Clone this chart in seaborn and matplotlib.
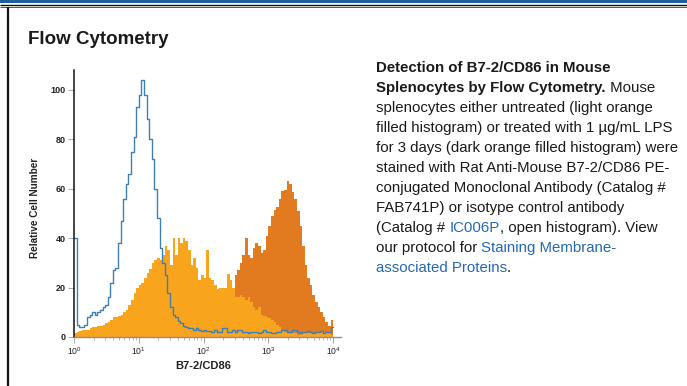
import numpy as np
import pandas as pd
import seaborn as sns
import matplotlib
matplotlib.use("Agg")
import matplotlib.pyplot as plt
from matplotlib.patches import Rectangle
from matplotlib.ticker import LogLocator, NullFormatter, FixedLocator

# Fluorescence channels: 100 bins of 0.04 decade spanning 10^0 .. 10^4
LOG_START = 0.0
LOG_BIN = 0.04
N_BINS = 100

# Isotype control antibody (open histogram)
isotype_counts = [
    40, 5, 4, 4, 5, 8, 9, 10, 9, 10,
    11, 12, 13, 16, 22, 27, 28, 38, 47, 56,
    62, 66, 75, 81, 93, 98, 104, 98, 88, 80,
    72, 60, 48, 36, 30, 25, 18, 12, 9, 8,
    6.5, 5.5, 4.5, 4, 3.5, 3.5, 3, 3.5, 3, 2.5,
    3, 2.5, 2.5, 2, 3, 2, 2, 3.5, 3.5, 2,
    2, 3, 2, 3, 3, 2, 2, 1.5, 2, 2,
    2, 1.5, 2, 3, 2, 2, 1.5, 1.5, 2, 2,
    3, 3, 2, 2, 3, 3, 2, 1.5, 2, 2,
    2.5, 2, 1.5, 2, 2, 2.5, 1.5, 2, 2, 4,
]

# Untreated splenocytes (light orange)
untreated_counts = [
    1.5, 2, 2.5, 3, 3, 3, 3.5, 4, 4, 4.5,
    4.5, 5, 5.5, 6, 7, 8, 8, 8.5, 9, 10,
    11, 13, 15, 18, 20, 21, 22, 24, 26, 27.5,
    30, 31, 32, 31, 33, 37, 35, 29, 40, 33,
    40, 38, 40, 39, 35, 29, 32, 28, 23, 25,
    24, 35, 24, 23, 21, 19.5, 20, 20, 20, 25.5,
    23, 20, 16, 16, 17, 16, 15, 16, 14, 12,
    11, 12, 9, 8.5, 8, 7.5, 7, 6, 5, 4,
    3, 2, 2, 1.5, 1.5, 1.5, 1, 1.5, 1.5, 1.5,
    1.5, 1.5, 1.5, 2, 2, 2, 2, 2, 1.5, 1,
]

# LPS-treated splenocytes, 1 ug/mL for 3 days (dark orange)
lps_counts = [
    0, 0, 0, 0, 0, 0, 0, 0, 0, 0,
    0, 0, 0, 0, 0, 0, 0, 0, 0, 0,
    0, 0, 0, 0, 0, 0, 0, 0, 0, 0,
    0, 0, 0, 0, 0, 0, 0, 0, 0, 0,
    2, 3, 3, 4, 4, 5, 5, 6, 6, 7,
    8, 9, 9, 10, 11, 12, 12, 13, 14, 15,
    15, 16, 25, 27, 30, 33, 40, 33, 32, 36,
    38, 37, 34, 35, 41, 45, 49, 51.5, 52.5, 56,
    59, 59.5, 63, 62, 58.5, 56, 51, 45, 37, 29,
    24, 21, 17, 14, 12, 10, 8, 6, 4.5, 7,
]

y_ticks = [0, 20, 40, 60, 80, 100]
x_label = "B7-2/CD86"
y_label = "Relative Cell Number"

LIGHT = "#f9a41d"
DARK = "#e27b1f"
BLUE = "#3f7fb2"
LINK = "#2468b4"
TEXT = "#1a1a1a"

sns.set_theme(style="white")
plt.rcParams["font.family"] = ["Liberation Sans", "DejaVu Sans"]
plt.rcParams["mathtext.fontset"] = "custom"
plt.rcParams["mathtext.rm"] = "Liberation Sans"
plt.rcParams["mathtext.it"] = "Liberation Sans:italic"
plt.rcParams["mathtext.bf"] = "Liberation Sans:bold"

W, H = 687, 386
fig = plt.figure(figsize=(W / 100, H / 100), dpi=100)
fig.patch.set_facecolor("white")

# page frame drawn in pixel units
bg = fig.add_axes([0, 0, 1, 1])
bg.set_xlim(0, W)
bg.set_ylim(H, 0)
bg.axis("off")
bg.add_patch(Rectangle((0, 0), W, 2.6, color="#1f5f9e", lw=0))
bg.plot([0, W], [4.7, 4.7], color="#111111", lw=1.0, solid_capstyle="butt")
bg.plot([0, W], [7.0, 7.0], color="#555555", lw=0.7, solid_capstyle="butt")
bg.plot([8.2, 8.2], [6.6, H], color="#111111", lw=1.6, solid_capstyle="butt")

bg.text(28, 44.5, "Flow Cytometry", fontsize=13.5, fontweight="bold",
        color=TEXT, va="baseline", ha="left")

# caption, one list of (text, weight, colour) runs per line
caption = [
    [("Detection of B7-2/CD86 in Mouse", "bold", TEXT)],
    [("Splenocytes by Flow Cytometry.", "bold", TEXT), (" Mouse", "normal", TEXT)],
    [("splenocytes either untreated (light orange", "normal", TEXT)],
    [("filled histogram) or treated with 1 \u00b5g/mL LPS", "normal", TEXT)],
    [("for 3 days (dark orange filled histogram) were", "normal", TEXT)],
    [("stained with Rat Anti-Mouse B7-2/CD86 PE-", "normal", TEXT)],
    [("conjugated Monoclonal Antibody (Catalog #", "normal", TEXT)],
    [("FAB741P) or isotype control antibody", "normal", TEXT)],
    [("(Catalog # ", "normal", TEXT), ("IC006P", "normal", LINK),
     (", open histogram). View", "normal", TEXT)],
    [("our protocol for ", "normal", TEXT), ("Staining Membrane-", "normal", LINK)],
    [("associated Proteins", "normal", LINK), (".", "normal", TEXT)],
]
renderer = fig.canvas.get_renderer()
cap_x, cap_y, cap_lead = 376, 71.7, 20.0
for i, runs in enumerate(caption):
    x = cap_x
    for txt, wt, col in runs:
        t = bg.text(x, cap_y + i * cap_lead, txt, fontsize=10.8, fontweight=wt,
                    color=col, va="baseline", ha="left")
        bb = t.get_window_extent(renderer=renderer)
        x += bb.width

# histogram panel
ax = fig.add_axes([74 / W, 1 - 337 / H, (341 - 74) / W, (337 - 70) / H])
log_edges = LOG_START + LOG_BIN * np.arange(N_BINS + 1)
bin_list = list(log_edges)
centers = 10 ** (log_edges[:-1] + LOG_BIN / 2)
df = pd.DataFrame({
    "signal": centers,
    "isotype": isotype_counts,
    "untreated": untreated_counts,
    "lps": lps_counts,
})

sns.histplot(data=df, x="signal", weights="lps", bins=bin_list, log_scale=True,
             element="step", fill=True, color=DARK, alpha=1, linewidth=0, ax=ax)
sns.histplot(data=df, x="signal", weights="untreated", bins=bin_list, log_scale=True,
             element="step", fill=True, color=LIGHT, alpha=1, linewidth=0, ax=ax)
sns.histplot(data=df, x="signal", weights="isotype", bins=bin_list, log_scale=True,
             element="step", fill=False, color=BLUE, linewidth=1.0, ax=ax)

ax.set_xlim(1, 10 ** 4.12)
ax.set_ylim(0, 108)
ax.set_facecolor("none")
for side in ("top", "right"):
    ax.spines[side].set_visible(False)
ax.spines["left"].set_color("#111111")
ax.spines["left"].set_linewidth(1.1)
ax.spines["bottom"].set_color("#8a8f96")
ax.spines["bottom"].set_linewidth(1.0)

ax.yaxis.set_major_locator(FixedLocator(y_ticks))
ax.xaxis.set_major_locator(LogLocator(base=10, numticks=10))
ax.xaxis.set_minor_locator(LogLocator(base=10, subs=np.arange(2, 10), numticks=20))
ax.xaxis.set_minor_formatter(NullFormatter())
ax.tick_params(axis="y", which="major", length=4, width=0.6, color="#9a9a9a",
               pad=2, labelsize=6.5, labelcolor="#222222", left=True)
ax.tick_params(axis="x", which="major", length=4, width=0.6, color="#9a9a9a",
               pad=2, labelsize=6.2, labelcolor="#222222", bottom=True)
ax.tick_params(axis="x", which="minor", length=2.5, width=0.5, color="#9a9a9a",
               bottom=True)
for lab in ax.get_yticklabels():
    lab.set_fontweight("bold")

ax.set_xlabel(x_label, fontsize=8, fontweight="bold", color="#222222")
ax.set_ylabel(y_label, fontsize=7.2, fontweight="bold", color="#222222")
ax.xaxis.set_label_coords((203.5 - 74) / 267, -(361 - 337) / 267)
ax.yaxis.set_label_coords((40 - 74) / 267, 0.485)

fig.savefig("out.png", dpi=100, facecolor="white")
